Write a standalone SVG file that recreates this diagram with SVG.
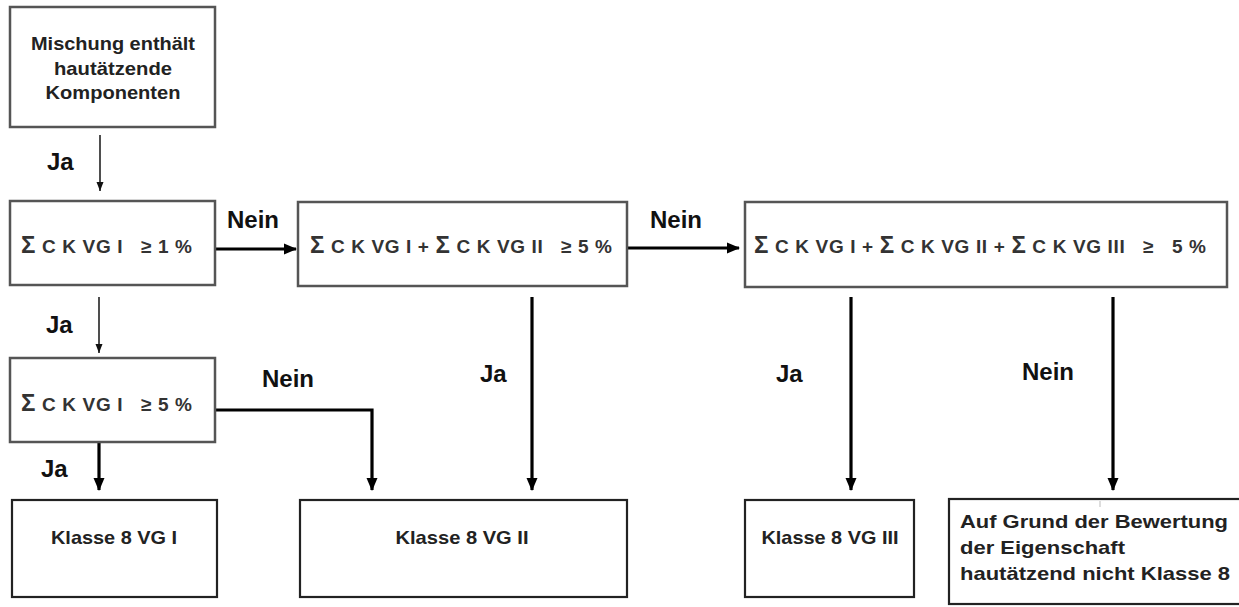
<svg xmlns="http://www.w3.org/2000/svg" width="1239" height="607" viewBox="0 0 1239 607">
<defs>
<marker id="ah" markerUnits="userSpaceOnUse" markerWidth="14" markerHeight="14" viewBox="0 0 14 14" refX="12" refY="7" orient="auto">
<path d="M0,1.5 L13,7 L0,12.5 Z" fill="#000"/>
</marker>
<marker id="ahs" markerUnits="userSpaceOnUse" markerWidth="10" markerHeight="10" viewBox="0 0 10 10" refX="9" refY="5" orient="auto">
<path d="M0,1.5 L9,5 L0,8.5 Z" fill="#111"/>
</marker>
<style>
.bt{fill:#fff;stroke:#555;stroke-width:2.5}
.bb{fill:#fff;stroke:#222;stroke-width:2.2}
.t{font-family:"Liberation Sans",Arial,sans-serif;font-weight:bold;fill:#222}
.m{font-size:19px;text-anchor:middle}
.s{font-size:19px;fill:#333;white-space:pre}
.g{font-size:24px}
.l{font-size:24px;fill:#111}
.r{font-size:19px}
.thick{fill:none;stroke:#000;stroke-width:3.2;marker-end:url(#ah)}
.thin{fill:none;stroke:#222;stroke-width:1.6;marker-end:url(#ahs)}
</style>
</defs>
<g id="connectors">
<line class="thin" x1="100" y1="135" x2="100" y2="191"/>
<line class="thick" x1="216" y1="249" x2="296" y2="249"/>
<line class="thick" x1="628" y1="248" x2="739" y2="248"/>
<line class="thin" x1="99" y1="297" x2="99" y2="353"/>
<line class="thick" x1="99" y1="443" x2="99" y2="490"/>
<polyline class="thick" points="216,410 372,410 372,490"/>
<line class="thick" x1="532" y1="297" x2="532" y2="490"/>
<line class="thick" x1="851" y1="297" x2="851" y2="490"/>
<line class="thick" x1="1113" y1="297" x2="1113" y2="490"/>
</g>
<g id="labels">
<text class="t l" x="47" y="170">Ja</text>
<text class="t l" x="227" y="228">Nein</text>
<text class="t l" x="650" y="228">Nein</text>
<text class="t l" x="46" y="333">Ja</text>
<text class="t l" x="262" y="387">Nein</text>
<text class="t l" x="41" y="477">Ja</text>
<text class="t l" x="480" y="382">Ja</text>
<text class="t l" x="776" y="382">Ja</text>
<text class="t l" x="1022" y="380">Nein</text>
</g>
<g id="n1">
<rect class="bt" x="10" y="7" width="205" height="120"/>
<text class="t m" x="113" y="50" textLength="164" lengthAdjust="spacingAndGlyphs">Mischung enthält</text>
<text class="t m" x="113" y="75" textLength="118" lengthAdjust="spacingAndGlyphs">hautätzende</text>
<text class="t m" x="113" y="99" textLength="135" lengthAdjust="spacingAndGlyphs">Komponenten</text>
</g>
<g id="n2">
<rect class="bt" x="10" y="201" width="205" height="84"/>
<text class="t s" x="21" y="253" textLength="171" lengthAdjust="spacing"><tspan class="g">Σ</tspan> C K VG I   ≥ 1 %</text>
</g>
<g id="n3">
<rect class="bt" x="298" y="202" width="329" height="84"/>
<text class="t s" x="310" y="253" textLength="302" lengthAdjust="spacing"><tspan class="g">Σ</tspan> C K VG I + <tspan class="g">Σ</tspan> C K VG II   ≥ 5 %</text>
</g>
<g id="n4">
<rect class="bt" x="745" y="202" width="482" height="85"/>
<text class="t s" x="754" y="253" textLength="452" lengthAdjust="spacing"><tspan class="g">Σ</tspan> C K VG I + <tspan class="g">Σ</tspan> C K VG II + <tspan class="g">Σ</tspan> C K VG III   ≥   5 %</text>
</g>
<g id="n5">
<rect class="bt" x="10" y="358" width="205" height="84"/>
<text class="t s" x="21" y="411" textLength="171" lengthAdjust="spacing"><tspan class="g">Σ</tspan> C K VG I   ≥ 5 %</text>
</g>
<g id="n6">
<rect class="bb" x="12" y="500" width="205" height="97"/>
<text class="t m" x="114" y="544" textLength="126" lengthAdjust="spacingAndGlyphs">Klasse 8 VG I</text>
</g>
<g id="n7">
<rect class="bb" x="300" y="500" width="327" height="97"/>
<text class="t m" x="462" y="544" textLength="133" lengthAdjust="spacingAndGlyphs">Klasse 8 VG II</text>
</g>
<g id="n8">
<rect class="bb" x="745" y="500" width="169" height="97"/>
<text class="t m" x="830" y="544" textLength="137" lengthAdjust="spacingAndGlyphs">Klasse 8 VG III</text>
</g>
<g id="n9">
<rect class="bb" x="949" y="499" width="300" height="105"/>
<line x1="1100" y1="501" x2="1100" y2="507" stroke="#bbb" stroke-width="1"/>
<text class="t r" x="960" y="528" textLength="268" lengthAdjust="spacingAndGlyphs">Auf Grund der Bewertung</text>
<text class="t r" x="960" y="554" textLength="165" lengthAdjust="spacingAndGlyphs">der Eigenschaft</text>
<text class="t r" x="960" y="580" textLength="270" lengthAdjust="spacingAndGlyphs">hautätzend nicht Klasse 8</text>
</g>
</svg>
